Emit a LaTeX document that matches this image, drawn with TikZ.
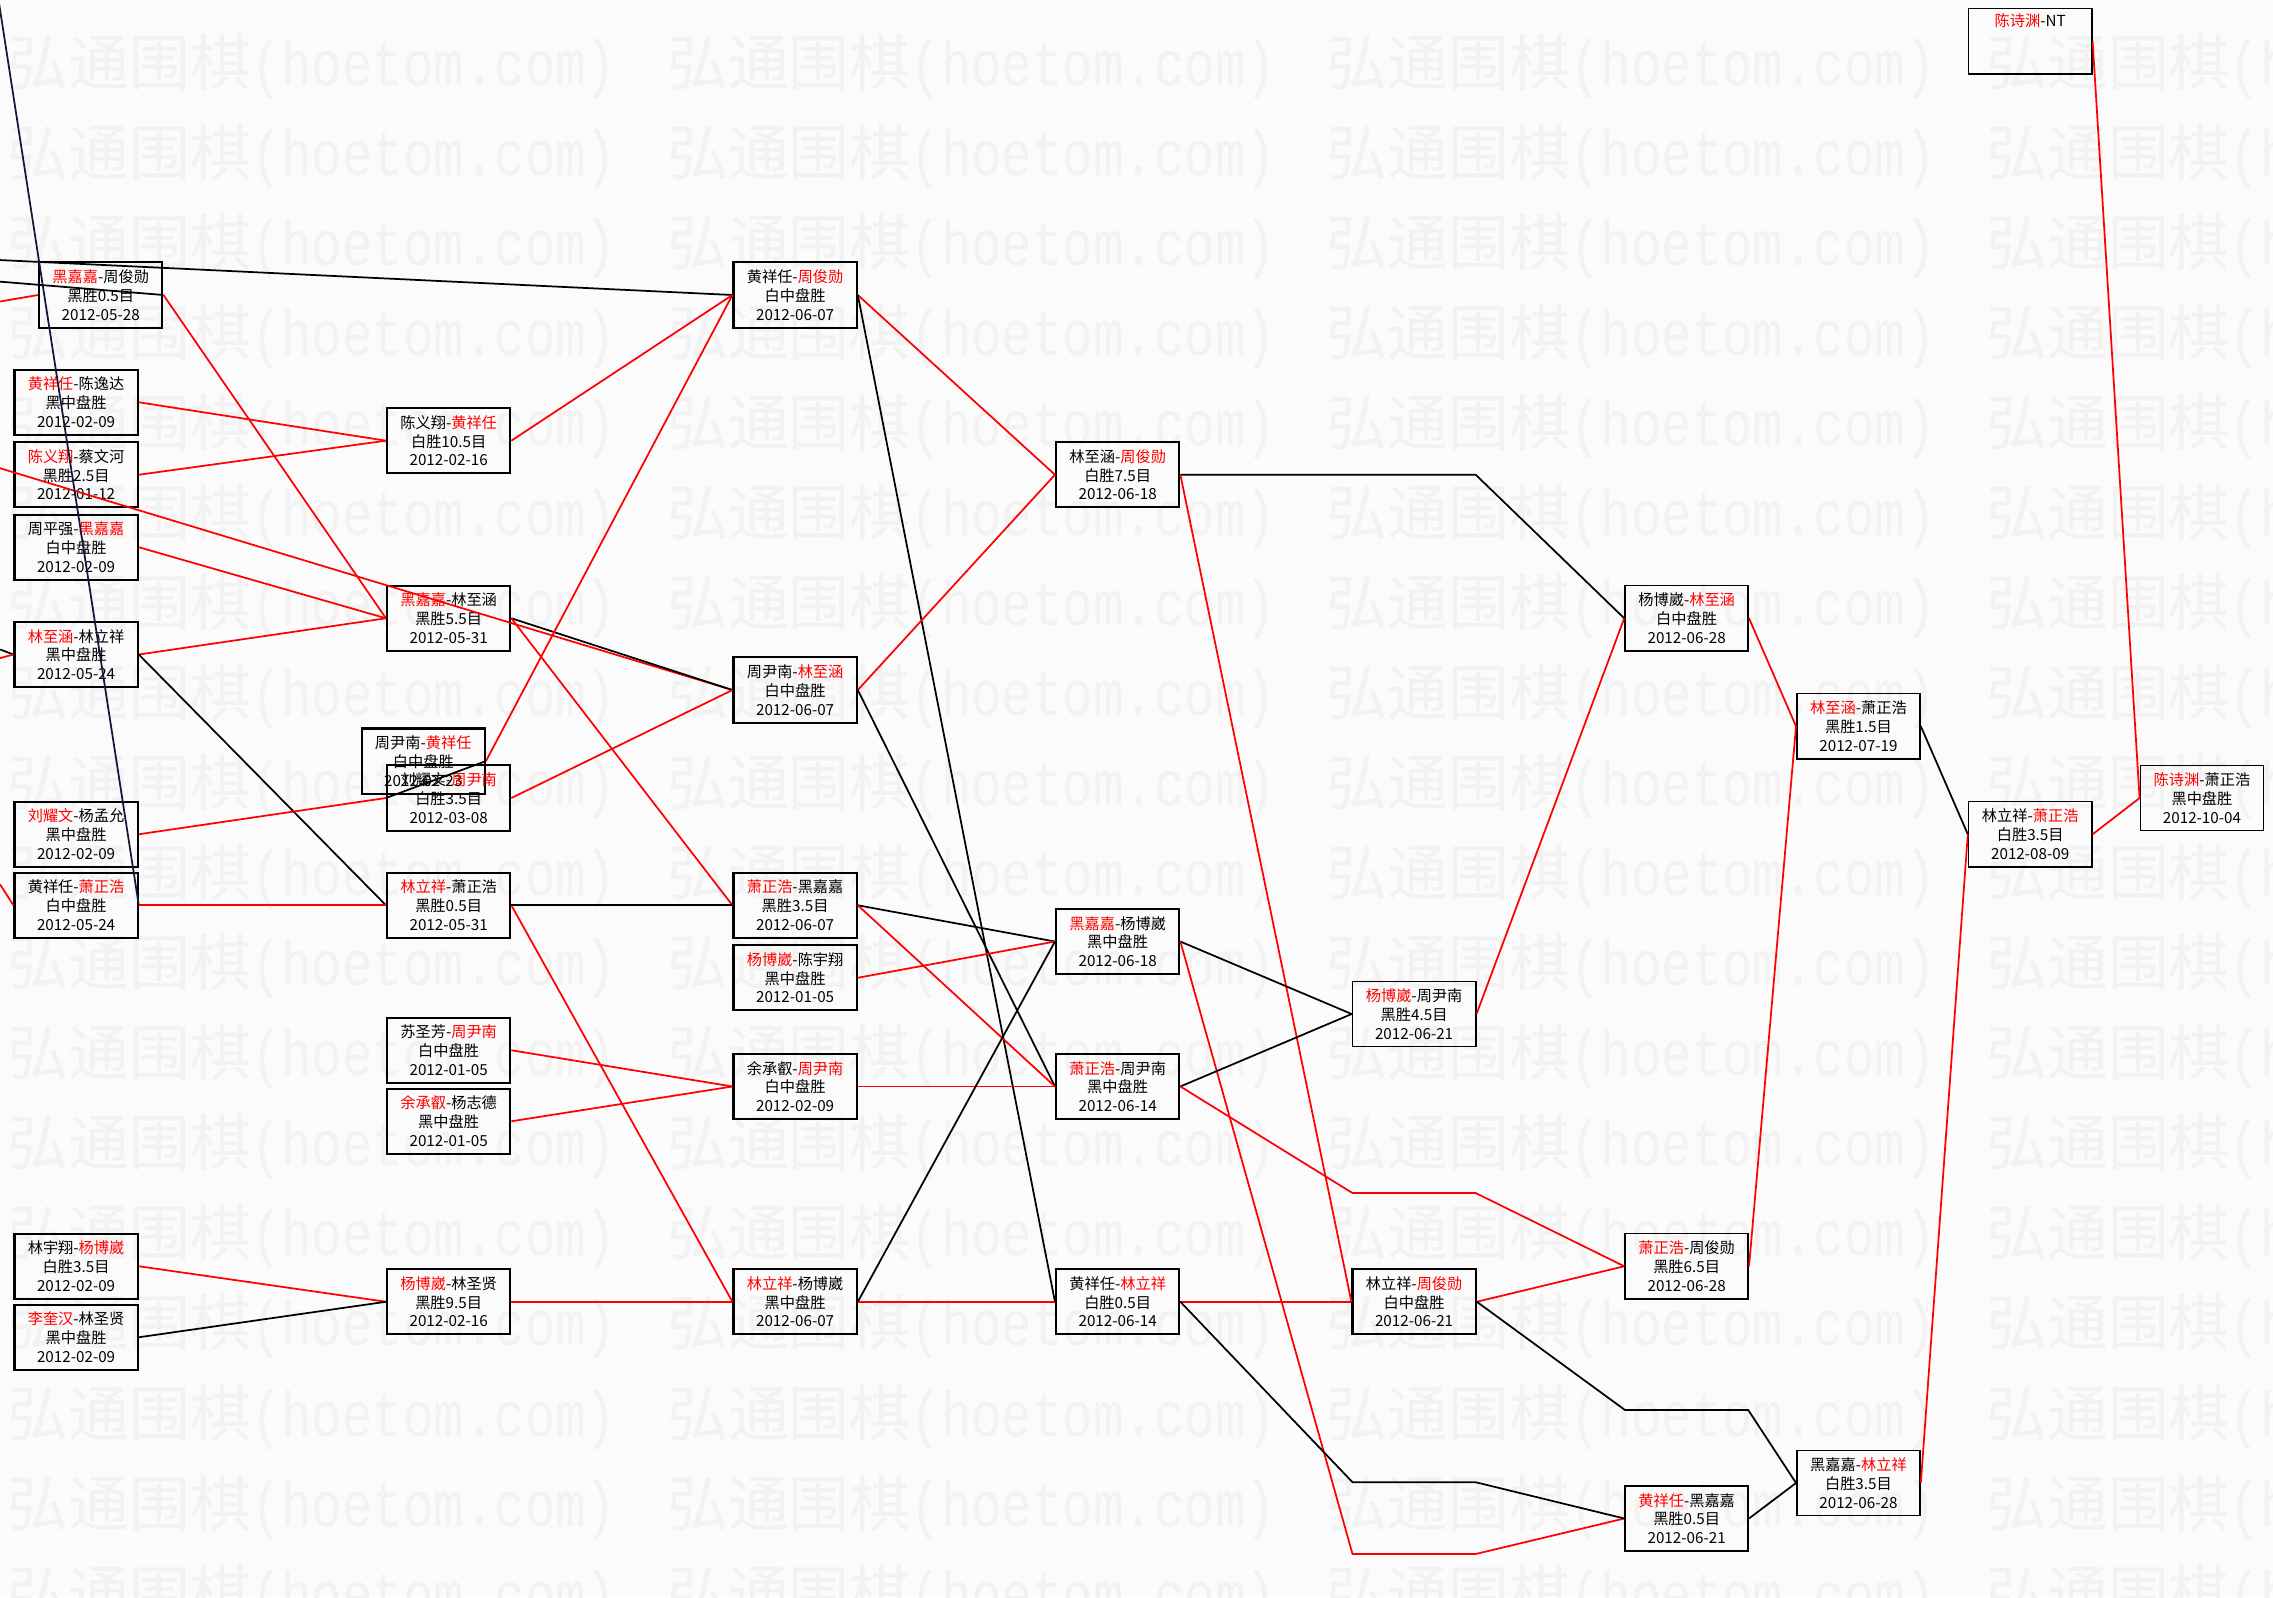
\documentclass[tikz,border=0pt]{standalone}
\usepackage{fontspec}
\newfontfamily\cjk{Noto Sans CJK SC}
\newfontfamily\wmmono{Liberation Mono}
\definecolor{navyline}{RGB}{15,25,55}
\newcommand{\rd}[1]{\textcolor{red}{#1}}
\tikzset{
  gbox/.style={draw, line width=1.5pt, minimum width=85pt, minimum height=45pt,
    inner sep=0pt, align=center, font=\cjk\fontsize{10.5}{12.9}\selectfont},
  gboxr/.style={gbox, line width=1.1pt},
  win/.style={draw=red, line width=1.2pt},
  lose/.style={draw=black, line width=1.2pt},
  wm/.style={anchor=west, inner sep=0pt, text=black!5, font=\cjk\fontsize{42}{42}\selectfont},
}
\begin{document}
\begin{tikzpicture}[x=1pt,y=-1pt]
\fill[black!1.5] (0,0) rectangle (1568,1102);
\useasboundingbox (0,0) rectangle (1568,1102);
% watermark
\begin{scope}
\clip (0,0) rectangle (1568,1102);
\foreach \k in {0,...,17} {
  \foreach \j in {0,...,3} {
    \node[wm] (wm-\k-\j) at ({5+455*\j},{46+62.1*\k}) {弘通围棋\scalebox{1}[1.25]{\wmmono\fontsize{35}{35}\selectfont (hoetom.com)}};
  }
}
\end{scope}

% column 1
\node[gbox] (n11) at (69.5,203.5) {\rd{黑嘉嘉}-周俊勋\\黑胜0.5目\\2012-05-28};
\node[gbox] (n12) at (52.5,277.5) {\rd{黄祥任}-陈逸达\\黑中盘胜\\2012-02-09};
\node[gbox] (n13) at (52.5,327.5) {\rd{陈义翔}-蔡文河\\黑胜2.5目\\2012-01-12};
\node[gbox] (n14) at (52.5,377.5) {周平强-\rd{黑嘉嘉}\\白中盘胜\\2012-02-09};
\node[gbox] (n15) at (52.5,451.5) {\rd{林至涵}-林立祥\\黑中盘胜\\2012-05-24};
\node[gbox] (n16) at (52.5,575.5) {\rd{刘耀文}-杨孟允\\黑中盘胜\\2012-02-09};
\node[gbox] (n17) at (52.5,624.5) {黄祥任-\rd{萧正浩}\\白中盘胜\\2012-05-24};
\node[gbox] (n18) at (52.5,873.5) {林宇翔-\rd{杨博崴}\\白胜3.5目\\2012-02-09};
\node[gbox] (n19) at (52.5,922.5) {\rd{李奎汉}-林圣贤\\黑中盘胜\\2012-02-09};
% column 2
\node[gbox] (n21) at (309.5,304) {陈义翔-\rd{黄祥任}\\白胜10.5目\\2012-02-16};
\node[gbox] (n22) at (309.5,426.5) {\rd{黑嘉嘉}-林至涵\\黑胜5.5目\\2012-05-31};
\node[gbox] (n23) at (292,525) {周尹南-\rd{黄祥任}\\白中盘胜\\2012-02-23};
\node[gbox] (n24) at (309.5,550.5) {刘耀文-\rd{周尹南}\\白胜3.5目\\2012-03-08};
\node[gbox] (n25) at (309.5,624.5) {\rd{林立祥}-萧正浩\\黑胜0.5目\\2012-05-31};
\node[gbox] (n26) at (309.5,724.5) {苏圣芳-\rd{周尹南}\\白中盘胜\\2012-01-05};
\node[gbox] (n27) at (309.5,773.5) {\rd{余承叡}-杨志德\\黑中盘胜\\2012-01-05};
\node[gbox] (n28) at (309.5,898) {\rd{杨博崴}-林圣贤\\黑胜9.5目\\2012-02-16};
% column 3
\node[gbox] (n31) at (548.5,203.5) {黄祥任-\rd{周俊勋}\\白中盘胜\\2012-06-07};
\node[gbox] (n32) at (548.5,476) {周尹南-\rd{林至涵}\\白中盘胜\\2012-06-07};
\node[gbox] (n33) at (548.5,624.5) {\rd{萧正浩}-黑嘉嘉\\黑胜3.5目\\2012-06-07};
\node[gbox] (n34) at (548.5,674.5) {\rd{杨博崴}-陈宇翔\\黑中盘胜\\2012-01-05};
\node[gbox] (n35) at (548.5,749.5) {余承叡-\rd{周尹南}\\白中盘胜\\2012-02-09};
\node[gbox] (n36) at (548.5,898) {\rd{林立祥}-杨博崴\\黑中盘胜\\2012-06-07};
% column 4
\node[gbox] (n41) at (771,327.5) {林至涵-\rd{周俊勋}\\白胜7.5目\\2012-06-18};
\node[gbox] (n42) at (771,649.5) {\rd{黑嘉嘉}-杨博崴\\黑中盘胜\\2012-06-18};
\node[gbox] (n43) at (771,749.5) {\rd{萧正浩}-周尹南\\黑中盘胜\\2012-06-14};
\node[gbox] (n44) at (771,898) {黄祥任-\rd{林立祥}\\白胜0.5目\\2012-06-14};
% column 5
\node[gboxr] (n51) at (975.5,699.5) {\rd{杨博崴}-周尹南\\黑胜4.5目\\2012-06-21};
\node[gbox] (n52) at (975.5,898) {林立祥-\rd{周俊勋}\\白中盘胜\\2012-06-21};
% column 6
\node[gboxr] (n61) at (1163.5,426.5) {杨博崴-\rd{林至涵}\\白中盘胜\\2012-06-28};
\node[gboxr] (n62) at (1163.5,873.5) {\rd{萧正浩}-周俊勋\\黑胜6.5目\\2012-06-28};
\node[gboxr] (n63) at (1163.5,1047.5) {\rd{黄祥任}-黑嘉嘉\\黑胜0.5目\\2012-06-21};
% column 7
\node[gboxr] (n71) at (1282,501) {\rd{林至涵}-萧正浩\\黑胜1.5目\\2012-07-19};
\node[gboxr] (n72) at (1282,1023) {黑嘉嘉-\rd{林立祥}\\白胜3.5目\\2012-06-28};
% column 8
\node[gboxr] (n81) at (1400.5,575.5) {林立祥-\rd{萧正浩}\\白胜3.5目\\2012-08-09};
\node[gboxr] (n82) at (1400.5,28.5) {\rd{陈诗渊}-NT\\\strut\\\strut};
% column 9
\node[gboxr] (n91) at (1519,550.5) {\rd{陈诗渊}-萧正浩\\黑中盘胜\\2012-10-04};

% off-picture ends
\coordinate (o1) at (0,179.4);
\coordinate (o2) at (0,194.3);
\coordinate (o3) at (0,208);
\coordinate (o4) at (0,323);
\coordinate (o5) at (-1,0);
\coordinate (o6) at (0,448);
\coordinate (o7) at (0,454);
\coordinate (o8) at (0,610);
\draw[lose] (o1) -- (n31.west);
\draw[lose] (n11.east) -- (o2);
\draw[win] (o3) -- (n11.west);
\draw[win] (o4) -- (n32.west);
\draw[navyline, line width=1.2pt] (n17.east) -- (o5);
\draw[lose] (o6) -- (n15.west);
\draw[win] (o7) -- (n15.west);
\draw[win] (o8) -- (n17.west);

% column 1 out
\draw[win] (n11.east) -- (n22.west);
\draw[win] (n12.east) -- (n21.west);
\draw[win] (n13.east) -- (n21.west);
\draw[win] (n14.east) -- (n22.west);
\draw[win] (n15.east) -- (n22.west);
\draw[lose] (n15.east) -- (n25.west);
\draw[win] (n16.east) -- (n24.west);
\draw[win] (n17.east) -- (n25.west);
\draw[win] (n18.east) -- (n28.west);
\draw[lose] (n19.east) -- (n28.west);
% column 2 out
\draw[win] (n21.east) -- (n31.west);
\draw[lose] (n22.east) -- (n32.west);
\draw[win] (n22.east) -- (n33.west);
\draw[win] (n23.east) -- (n31.west);
\draw[lose] (n23.east) -- (n24.west);
\draw[win] (n24.east) -- (n32.west);
\draw[lose] (n25.east) -- (n33.west);
\draw[win] (n25.east) -- (n36.west);
\draw[win] (n26.east) -- (n35.west);
\draw[win] (n27.east) -- (n35.west);
\draw[win] (n28.east) -- (n36.west);
% column 3 out
\draw[win] (n31.east) -- (n41.west);
\draw[lose] (n31.east) -- (n44.west);
\draw[win] (n32.east) -- (n41.west);
\draw[lose] (n32.east) -- (n43.west);
\draw[lose] (n33.east) -- (n42.west);
\draw[win] (n33.east) -- (n43.west);
\draw[win] (n34.east) -- (n42.west);
\draw[win] (n35.east) -- (n43.west);
\draw[lose] (n36.east) -- (n42.west);
\draw[win] (n36.east) -- (n44.west);
% column 4 out (with bends through column 5)
\coordinate (b1) at (1018,327.5);
\coordinate (b2a) at (933,1072);
\coordinate (b2b) at (1018,1072);
\coordinate (b3a) at (933,823);
\coordinate (b3b) at (1018,823);
\coordinate (b4a) at (933,1022.5);
\coordinate (b4b) at (1018,1022.5);
\coordinate (b5a) at (1121,972.7);
\coordinate (b5b) at (1206,972.7);
\draw[lose] (n41.east) -- (b1) -- (n61.west);
\draw[win] (n41.east) -- (n52.west);
\draw[lose] (n42.east) -- (n51.west);
\draw[win] (n42.east) -- (b2a) -- (b2b) -- (n63.west);
\draw[lose] (n43.east) -- (n51.west);
\draw[win] (n43.east) -- (b3a) -- (b3b) -- (n62.west);
\draw[win] (n44.east) -- (n52.west);
\draw[lose] (n44.east) -- (b4a) -- (b4b) -- (n63.west);
% column 5 out
\draw[win] (n51.east) -- (n61.west);
\draw[win] (n52.east) -- (n62.west);
\draw[lose] (n52.east) -- (b5a) -- (b5b) -- (n72.west);
% column 6 out
\draw[win] (n61.east) -- (n71.west);
\draw[win] (n62.east) -- (n71.west);
\draw[lose] (n63.east) -- (n72.west);
% column 7 out
\draw[lose] (n71.east) -- (n81.west);
\draw[win] (n72.east) -- (n81.west);
% column 8 out
\draw[win] (n81.east) -- (n91.west);
\draw[win] (n82.east) -- (n91.west);
\end{tikzpicture}
\end{document}
